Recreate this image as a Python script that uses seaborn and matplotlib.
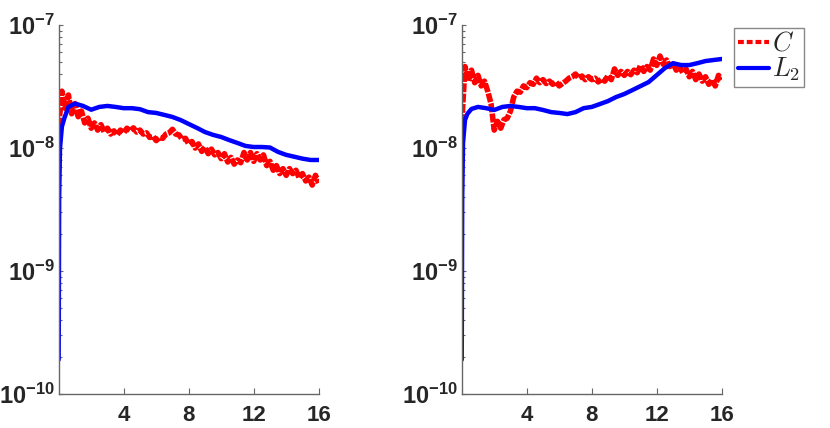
"""Two log-scale panels: C (red, dashed) and L2 (blue) against time."""

import numpy as np
import pandas as pd
import matplotlib

matplotlib.use("Agg")
import matplotlib.pyplot as plt
import seaborn as sns

# time grid of the noisy C trace (0.2 steps) and of the smoother L2 trace
t_c = np.round(np.arange(0, 16.01, 0.2), 2)
t_l2 = [0, 0.03, 0.08, 0.2, 0.35, 0.6, 1.0,
        1.5, 2, 2.5, 3, 3.5, 4, 4.5, 5, 5.5, 6, 6.5, 7, 7.5, 8,
        8.5, 9, 9.5, 10, 10.5, 11, 11.5, 12, 12.5, 13, 13.5, 14, 14.5, 15, 15.5, 16]

# values in units of 1e-8
c_left = [1.5, 2.9, 2.1, 2.7, 1.9, 2.3, 1.8, 2.0, 1.6, 1.75,
          1.45, 1.6, 1.4, 1.55, 1.35, 1.45, 1.3, 1.38, 1.28, 1.4,
          1.33, 1.45, 1.38, 1.46, 1.35, 1.4, 1.3, 1.33, 1.22, 1.25,
          1.15, 1.22, 1.2, 1.3, 1.33, 1.42, 1.3, 1.28, 1.18, 1.2,
          1.08, 1.13, 1.0, 1.08, 0.94, 1.02, 0.9, 0.98, 0.88, 0.92,
          0.82, 0.9, 0.77, 0.84, 0.74, 0.8, 0.76, 0.92, 0.8, 0.92,
          0.78, 0.9, 0.8, 0.88, 0.72, 0.78, 0.66, 0.72, 0.62, 0.68,
          0.6, 0.68, 0.62, 0.66, 0.57, 0.62, 0.54, 0.58, 0.5, 0.6, 0.52]
c_right = [1.6, 4.6, 3.5, 4.3, 3.4, 3.9, 3.2, 3.5, 2.9, 2.3,
           1.4, 1.65, 1.45, 1.7, 1.75, 2.0, 2.6, 2.9, 2.85, 3.2,
           3.1, 3.4, 3.3, 3.7, 3.4, 3.6, 3.35, 3.5, 3.3, 3.45,
           3.2, 3.35, 3.5, 3.7, 3.8, 4.0, 3.7, 3.85, 3.6, 3.8,
           3.6, 3.7, 3.45, 3.65, 3.5, 3.9, 3.6, 4.4, 3.9, 4.2,
           3.9, 4.2, 3.95, 4.3, 4.1, 4.7, 4.2, 4.6, 4.3, 5.3,
           4.7, 5.6, 4.8, 5.2, 4.6, 4.9, 4.3, 4.6, 4.1, 4.4,
           3.8, 4.2, 3.6, 4.0, 3.5, 3.8, 3.3, 3.6, 3.2, 3.9, 3.6]
l2_left = [0.019, 0.4, 1.0, 1.5, 1.75, 2.16, 2.3,
           2.2, 2.05, 2.16, 2.2, 2.16, 2.11, 2.11, 2.07, 1.96, 1.93, 1.86, 1.79, 1.69, 1.57,
           1.46, 1.35, 1.28, 1.23, 1.16, 1.10, 1.04, 1.02, 1.02, 1.01, 0.93, 0.88, 0.85, 0.82, 0.80, 0.80]
l2_right = [0.019, 0.4, 1.1, 1.69, 1.9, 2.08, 2.16,
            2.11, 2.04, 2.16, 2.2, 2.16, 2.11, 2.11, 2.04, 1.96, 1.93, 1.89, 1.96, 2.11, 2.16,
            2.28, 2.41, 2.6, 2.75, 2.96, 3.19, 3.44, 3.92, 4.47, 4.9, 4.73, 4.73, 4.9, 5.1, 5.2, 5.3]

x_ticks = [4, 8, 12, 16]
scale = 1e-8

sns.set_style("white")
plt.rcParams["font.family"] = ["Liberation Sans", "DejaVu Sans"]
plt.rcParams["font.weight"] = "bold"
plt.rcParams["mathtext.fontset"] = "custom"
plt.rcParams["mathtext.rm"] = "Liberation Sans:bold"
plt.rcParams["mathtext.it"] = "Liberation Sans:italic:bold"
plt.rcParams["mathtext.bf"] = "Liberation Sans:bold"
plt.rcParams["mathtext.sf"] = "Liberation Sans:bold"

fig = plt.figure(figsize=(8.3, 4.28), dpi=100)
ax_l = fig.add_axes([0.0707, 0.0794, 0.3133, 0.862])
ax_r = fig.add_axes([0.5563, 0.0794, 0.3133, 0.862])

spine_col = "#666666"
panels = [(ax_l, c_left, l2_left), (ax_r, c_right, l2_right)]
for ax, c_vals, l2_vals in panels:
    df_c = pd.DataFrame({"t": t_c, "v": np.array(c_vals) * scale})
    df_l2 = pd.DataFrame({"t": t_l2, "v": np.array(l2_vals) * scale})
    sns.lineplot(data=df_c, x="t", y="v", ax=ax, color="#ff0000", lw=4,
                 estimator=None, sort=False, label="$C$")
    ax.lines[-1].set_dashes((1.6, 0.25))
    sns.lineplot(data=df_l2, x="t", y="v", ax=ax, color="#0000ff", lw=3.2,
                 estimator=None, sort=False, label="$L_2$")
    ax.set_yscale("log")
    ax.set_ylim(1e-10, 1e-7)
    ax.set_xlim(0, 16)
    ax.set_xticks(x_ticks)
    ax.set_xticklabels([str(v) for v in x_ticks])
    ax.set_xlabel("")
    ax.set_ylabel("")
    for side in ("top", "right"):
        ax.spines[side].set_visible(False)
    for side in ("left", "bottom"):
        ax.spines[side].set_color(spine_col)
        ax.spines[side].set_linewidth(1)
    ax.tick_params(axis="both", which="both", direction="in", color=spine_col,
                   left=True, bottom=True)
    ax.tick_params(axis="x", which="major", length=4, labelsize=16, pad=8)
    ax.tick_params(axis="y", which="major", length=3, labelsize=17, pad=3)
    ax.tick_params(axis="y", which="minor", length=2, width=0.8)
    ax.tick_params(axis="x", which="minor", bottom=False)
    ax.get_legend().remove()

handles, labels = ax_r.get_legend_handles_labels()
leg = fig.legend(handles, labels, loc="upper left", bbox_to_anchor=(0.884, 0.935),
                 prop={"size": 19, "math_fontfamily": "cm"}, handlelength=1.2,
                 handletextpad=0.1, labelspacing=0.0, borderpad=0.15,
                 borderaxespad=0, fancybox=False, framealpha=1)
leg.get_frame().set_edgecolor("#888888")
leg.get_frame().set_linewidth(1)
leg.get_lines()[0].set_linewidth(3)
leg.get_lines()[0].set_dashes((1.4, 0.7))
leg.get_lines()[1].set_linewidth(3)

fig.savefig("out.png", dpi=100)
